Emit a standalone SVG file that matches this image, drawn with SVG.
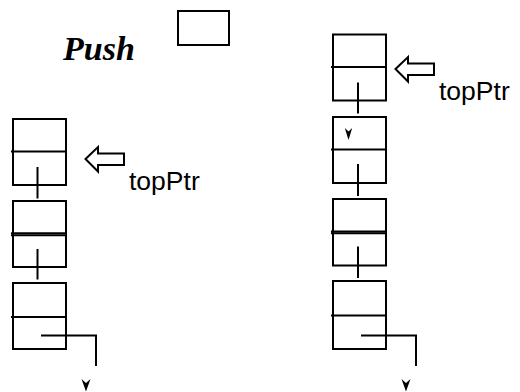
<svg xmlns="http://www.w3.org/2000/svg" width="520" height="392" viewBox="0 0 520 392">
<style>
.box{fill:none;stroke:#000;stroke-width:2}
.ln{fill:none;stroke:#000;stroke-width:2}
.blk{fill:none;stroke:#000;stroke-width:2;stroke-linejoin:miter}
.head{fill:#000;stroke:none}
.lbl{font-family:"Liberation Sans",Arial,sans-serif;font-size:26.5px;fill:#000}
.title{font-family:"Liberation Serif","Times New Roman",serif;font-size:34px;font-weight:bold;font-style:italic;fill:#000}
</style>
<rect width="520" height="392" fill="#fff"/>
<text class="title" x="63" y="60">Push</text>
<g id="newNode"><rect class="box" x="178" y="11" width="51" height="34"/></g>

<g id="L1"><rect class="box" x="13" y="119" width="53" height="66"/><line class="ln" x1="11" y1="151.5" x2="66" y2="151.5"/></g>
<g id="L2"><rect class="box" x="13" y="201" width="53" height="66"/><line class="ln" x1="11" y1="233.3" x2="66" y2="233.3"/><line class="ln" x1="11" y1="235.3" x2="66" y2="235.3"/></g>
<g id="L3"><rect class="box" x="13" y="283" width="53" height="66"/><line class="ln" x1="11" y1="317" x2="66" y2="317"/></g>

<g id="R1"><rect class="box" x="333" y="34.5" width="53" height="66"/><line class="ln" x1="331" y1="67" x2="386" y2="67"/></g>
<g id="R2"><rect class="box" x="333" y="117" width="53" height="66"/><line class="ln" x1="331" y1="149.5" x2="386" y2="149.5"/></g>
<g id="R3"><rect class="box" x="333" y="199" width="53" height="66.5"/><line class="ln" x1="331" y1="231.5" x2="386" y2="231.5"/><line class="ln" x1="331" y1="233.3" x2="386" y2="233.3"/></g>
<g id="R4"><rect class="box" x="333" y="281" width="53" height="68"/><line class="ln" x1="331" y1="315.5" x2="386" y2="315.5"/></g>

<g id="connectors">
<line class="ln" x1="37.5" y1="167" x2="37.5" y2="198.5"/>
<line class="ln" x1="37.5" y1="249" x2="37.5" y2="279.5"/>
<polyline class="ln" points="41,335.5 96,335.5 96,366"/>
<polygon class="head" points="81.5,379 86,383 90.5,379 86,391.5"/>

<line class="ln" x1="358" y1="82.5" x2="358" y2="113.5"/>
<polygon class="head" points="344.8,128 348.5,131.5 352.2,128 348.5,140"/>
<line class="ln" x1="358" y1="164" x2="358" y2="196"/>
<line class="ln" x1="358" y1="246.5" x2="358" y2="278"/>
<polyline class="ln" points="361,335.5 416,335.5 416,366"/>
<polygon class="head" points="401.5,379 406,383 410.5,379 406,391.5"/>

<polygon class="blk" points="85.5,159 98,147 98,153.5 124,153.5 124,165 98,165 98,171.5"/>
<polygon class="blk" points="395.5,69 408,57 408,63.5 434,63.5 434,75 408,75 408,81.5"/>
</g>

<text class="lbl" x="129" y="190">topPtr</text>
<text class="lbl" x="439" y="100">topPtr</text>
</svg>
